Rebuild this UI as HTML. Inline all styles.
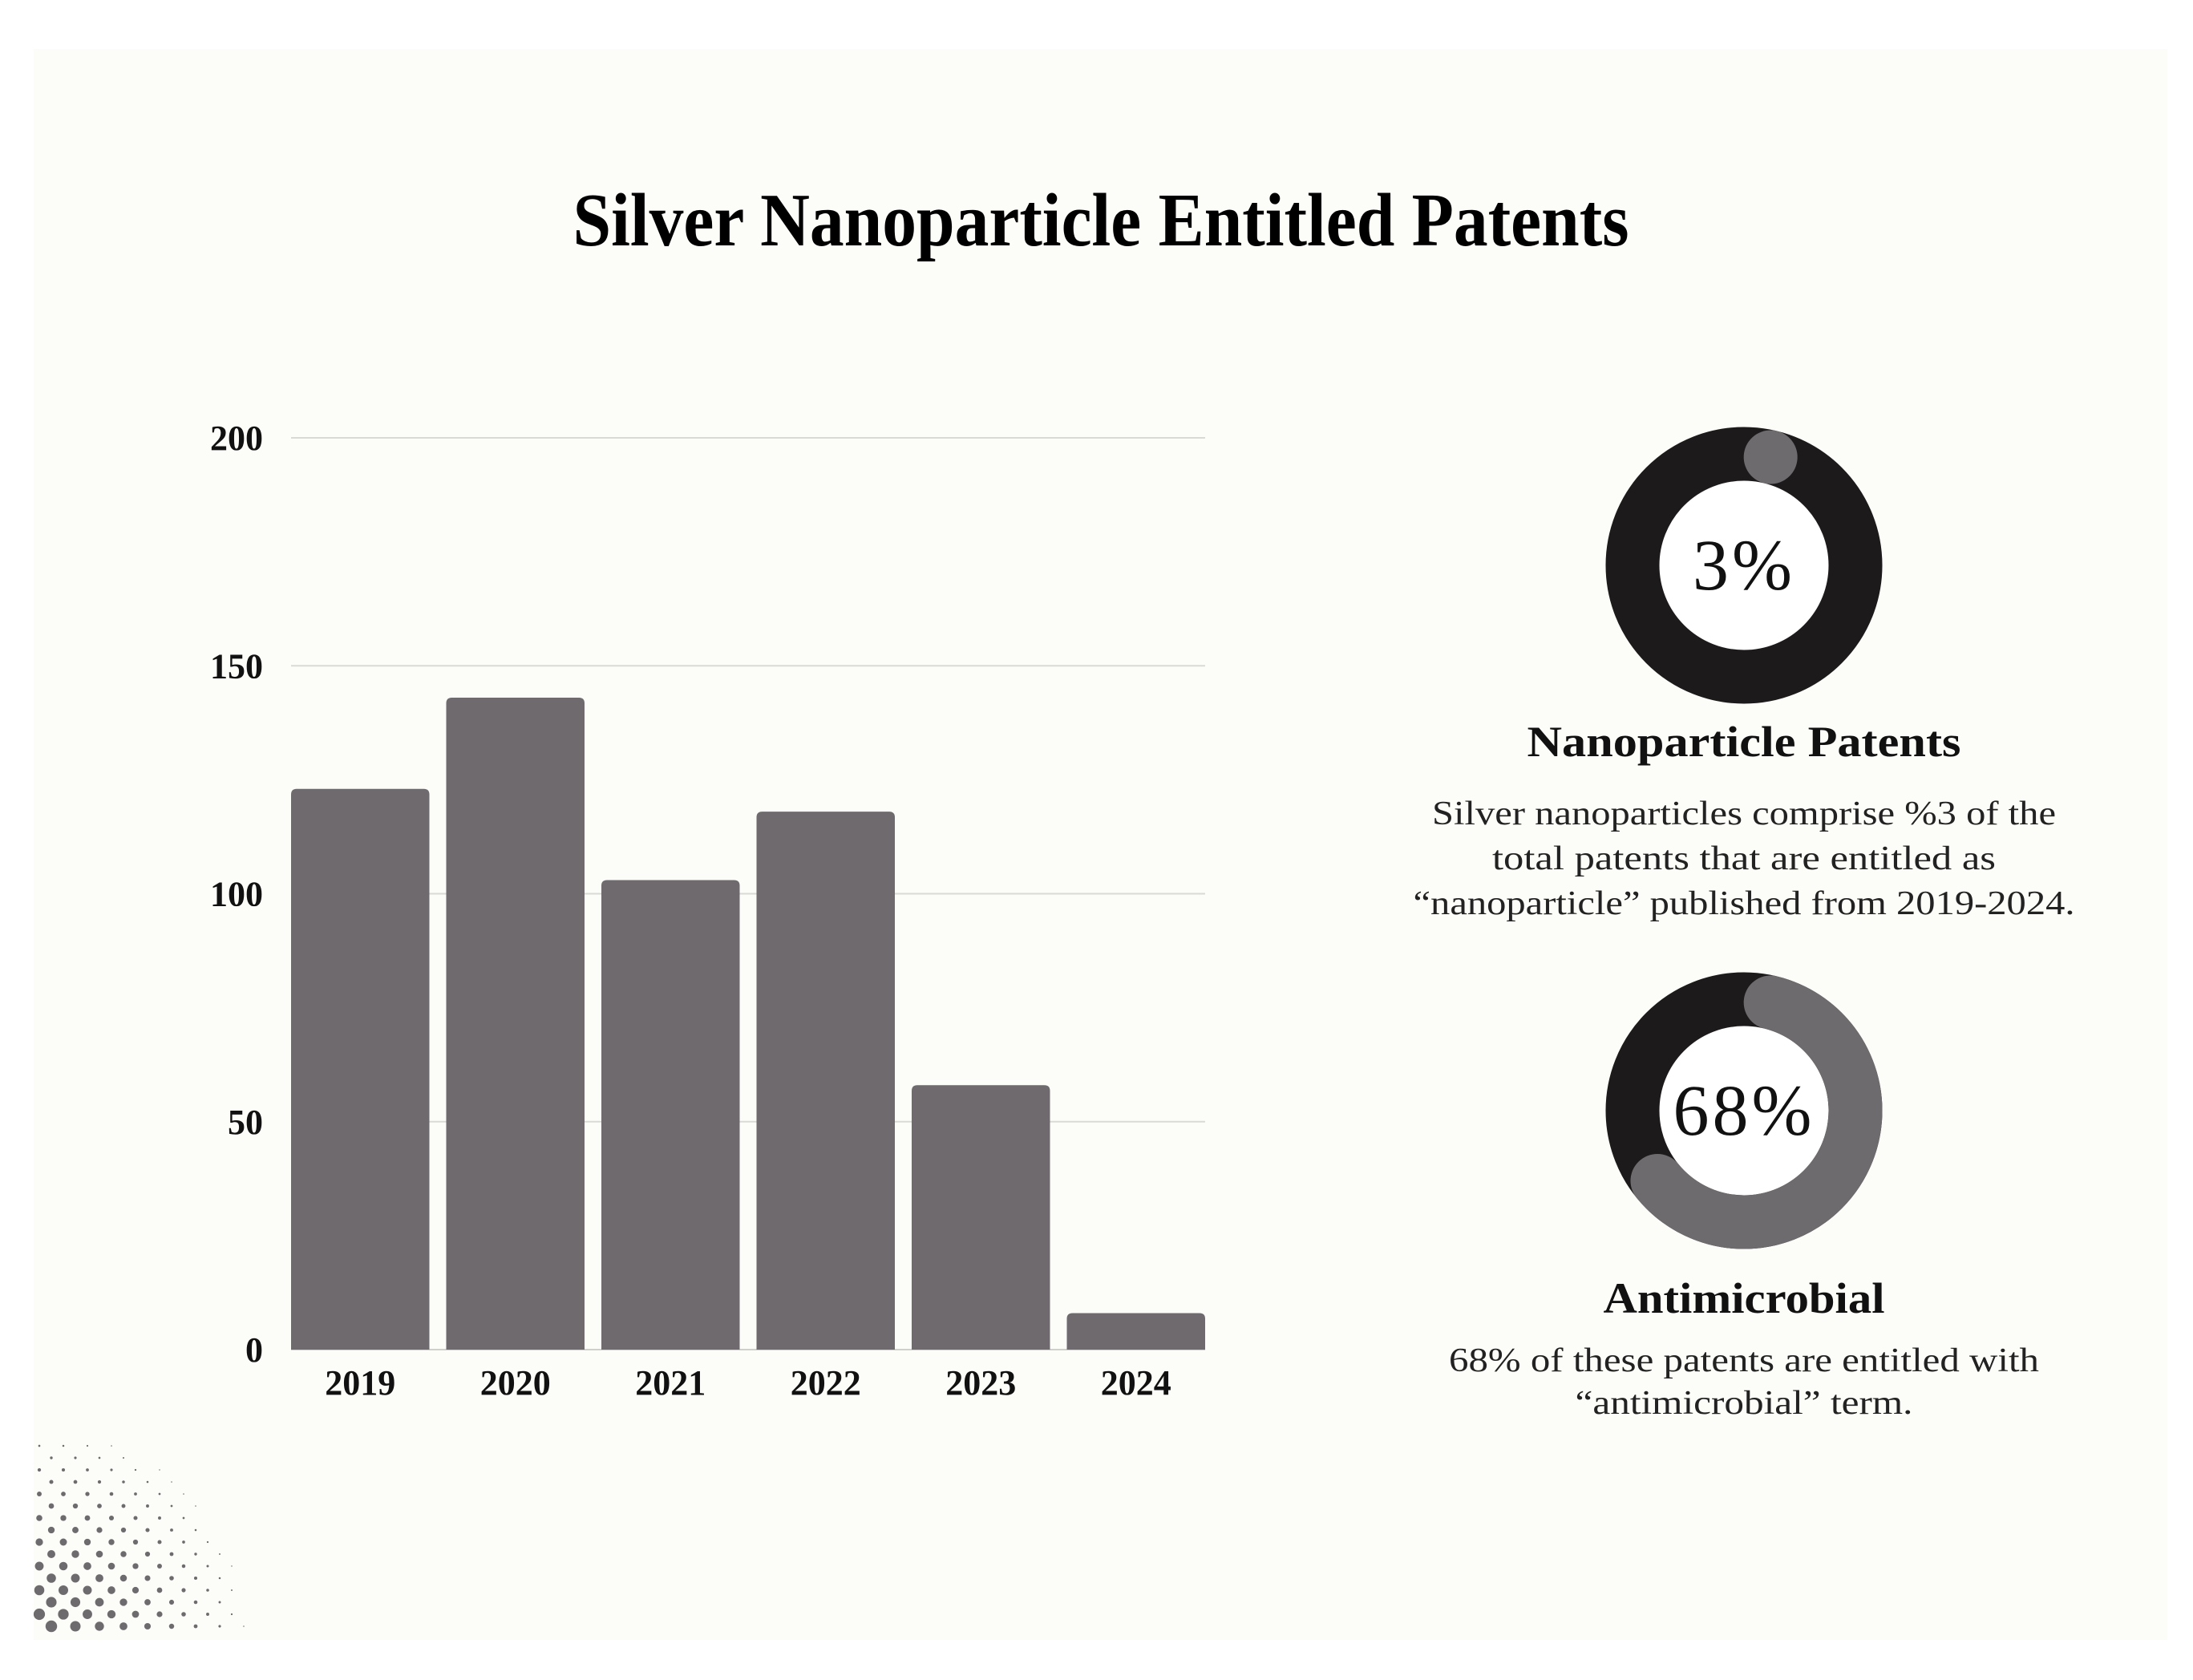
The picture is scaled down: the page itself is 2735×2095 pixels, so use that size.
<!DOCTYPE html>
<html><head><meta charset="utf-8"><style>
html,body{margin:0;padding:0;background:#fff;}
svg{display:block;}
text{font-family:"Liberation Serif",serif;}
</style></head><body>
<svg id="chart" width="2735" height="2095" viewBox="0 0 2735 2095">
<rect x="42" y="61" width="2661" height="1984" fill="#fcfcf8"/>
<g id="dots"></g>
<text x="1373" y="306" text-anchor="middle" font-size="94" font-weight="bold" fill="#000" textLength="1317" lengthAdjust="spacingAndGlyphs">Silver Nanoparticle Entitled Patents</text>
<g id="grid"></g>
<g id="bars"></g>
<g id="yticks"></g>
<g id="xticks"></g>
<g id="donuts"></g>
<g font-size="54" font-weight="bold" text-anchor="middle" fill="#111">
<text x="2175" y="943" textLength="541" lengthAdjust="spacingAndGlyphs">Nanoparticle Patents</text>
<text x="2175" y="1637" textLength="351" lengthAdjust="spacingAndGlyphs">Antimicrobial</text>
</g>
<g font-size="42" text-anchor="middle" fill="#222">
<text x="2175" y="1028" textLength="778" lengthAdjust="spacingAndGlyphs">Silver nanoparticles comprise %3 of the</text>
<text x="2175" y="1084" textLength="628" lengthAdjust="spacingAndGlyphs">total patents that are entitled as</text>
<text x="2175" y="1140" textLength="825" lengthAdjust="spacingAndGlyphs">“nanoparticle” published from 2019-2024.</text>
<text x="2175" y="1710" textLength="736" lengthAdjust="spacingAndGlyphs">68% of these patents are entitled with</text>
<text x="2175" y="1763" textLength="421" lengthAdjust="spacingAndGlyphs">“antimicrobial” term.</text>
</g>
</svg>
<script>
const categories = ["2019","2020","2021","2022","2023","2024"];
const patentCounts = [123, 143, 103, 118, 58, 8];
const yTicks = [0, 50, 100, 150, 200];
const donutLabels = ["3%", "68%"];
const donutValues = [3, 68];

const NS = "http://www.w3.org/2000/svg";
function mk(tag, attrs, parent){const e=document.createElementNS(NS,tag);for(const k in attrs)e.setAttribute(k,attrs[k]);parent.appendChild(e);return e;}
const plot = {left:363, right:1503, top:546, bottom:1683, yMax:200};
function yScale(v){return plot.bottom - v/plot.yMax*(plot.bottom-plot.top);}
const gap=21;
const step=(plot.right-plot.left+gap)/categories.length;
const barW=step-gap;
function xBar(i){return plot.left + i*step;}

const grid=document.getElementById('grid'), yt=document.getElementById('yticks');
yTicks.forEach(t=>{
  if(t>0){
    const l=mk('line',{x1:plot.left,x2:plot.right,y1:yScale(t),y2:yScale(t),stroke:'#d9d9d6','stroke-width':2},grid);
    
    
  }
  const tx=mk('text',{x:328,y:yScale(t)+15,'text-anchor':'end','font-size':44,'font-weight':'bold',fill:'#111'},yt);
  tx.textContent=t;
  
  
});
const bars=document.getElementById('bars'), xt=document.getElementById('xticks');
const rr=7;
categories.forEach((c,i)=>{
  const x0=xBar(i), x1=x0+barW;
  const yt0=yScale(patentCounts[i]), yb=yScale(0);
  const p=mk('path',{d:`M${x0},${yb}V${yt0+rr}Q${x0},${yt0} ${x0+rr},${yt0}H${x1-rr}Q${x1},${yt0} ${x1},${yt0+rr}V${yb}Z`,fill:'#6e6a6e'},bars);
  
  
  const tx=mk('text',{x:(x0+x1)/2,y:1739,'text-anchor':'middle','font-size':44,'font-weight':'bold',fill:'#111'},xt);
  tx.textContent=c;
  
  
});
const base=mk('line',{x1:plot.left,x2:plot.right,y1:plot.bottom,y2:plot.bottom,stroke:'#cfcfcc','stroke-width':2},grid);



// donuts
const dg=document.getElementById('donuts');
const centers=[[2175,705],[2175,1385]];
const rMid=139, thick=67;
function pt(cx,cy,deg){const a=(deg-90)*Math.PI/180;return [cx+rMid*Math.cos(a),cy+rMid*Math.sin(a)];}
donutValues.forEach((v,i)=>{
  const [cx,cy]=centers[i];
  const ring=mk('circle',{cx,cy,r:rMid,fill:'none',stroke:'#1c1a1b','stroke-width':thick},dg);
  
  
  const cap=(thick/2)/rMid*180/Math.PI;
  const a0=cap, a1=Math.max(a0+0.01, v/100*360-cap);
  const s=pt(cx,cy,a0), e=pt(cx,cy,a1);
  const large=(a1-a0)>180?1:0;
  const arc=mk('path',{d:`M${s[0]},${s[1]}A${rMid},${rMid} 0 ${large} 1 ${e[0]},${e[1]}`,fill:'none',stroke:'#6e6b6e','stroke-width':thick,'stroke-linecap':'round'},dg);
  
  
  const inner=mk('circle',{cx,cy,r:105,fill:'#fff'},dg);
  
  
  const t=mk('text',{x:cx,y:cy+30,'text-anchor':'middle','font-size':90,fill:'#111','letter-spacing':4},dg);
  t.textContent=donutLabels[i];
  
  
});

// halftone dots
const dots=document.getElementById('dots');
for(let j=0;j<17;j++){
  const y=1803+15*j;
  for(let i=0;i<12;i++){
    const x=49+(j%2?15:0)+30*i;
    const d=Math.hypot(x-42,2045-y);
    const r=8*(1-d/290);
    if(r<0.7||y>2040) continue;
    const c=mk('circle',{cx:x,cy:y,r:r.toFixed(2),fill:'#6e6b6e'},dots);
    
    
  }
}
</script>
</body></html>
